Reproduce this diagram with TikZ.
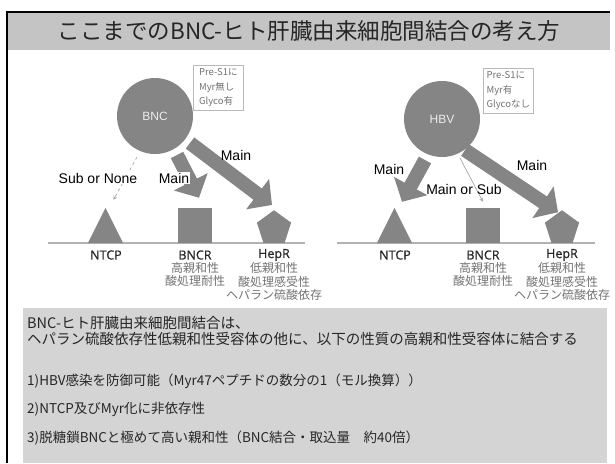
\documentclass[tikz,border=0pt]{standalone}
\usepackage{fontspec}
\setmainfont{Liberation Sans}
\newfontfamily\jp{Noto Sans CJK JP}
\newfontfamily\osans[BoldFont={Open Sans}, BoldFeatures={FakeBold=0.7}]{Open Sans}
\usetikzlibrary{arrows.meta,shapes.geometric}
\definecolor{shapegray}{gray}{0.52}
\definecolor{titlegray}{gray}{0.77}
\definecolor{boxgray}{gray}{0.83}
\definecolor{notegray}{gray}{0.45}
\begin{document}
\begin{tikzpicture}[x=1pt,y=-1pt,
  titletext/.style={font=\jp\fontsize{22.5}{25}\selectfont, text=black!85, inner sep=0},
  ball/.style={circle, fill=shapegray, minimum size=76pt, inner sep=0, text=gray!15, font=\fontsize{12}{14}\selectfont},
  prebox/.style={draw=gray!55, line width=0.6pt, align=left, text=notegray, font=\jp\fontsize{9.5}{14.5}\selectfont, inner sep=1.5pt, anchor=north west, minimum width=50pt, minimum height=45pt},
  sqbox/.style={fill=shapegray, minimum width=34pt, minimum height=35pt, inner sep=0},
  tribox/.style={minimum width=35pt, minimum height=35pt, inner sep=0},
  penta/.style={regular polygon, regular polygon sides=5, fill=shapegray, minimum size=36pt, inner sep=0, anchor=south},
  recname/.style={font=\osans\bfseries\fontsize{12.5}{14}\selectfont, text=black!85, inner sep=0},
  recnote/.style={font=\jp\fontsize{12}{13.5}\selectfont, text=notegray, align=center, inner sep=0},
  arrowlabel/.style={font=\fontsize{14}{16}\selectfont, inner sep=1pt},
  blockarrow/.style={draw=shapegray, line width=14pt, -{Triangle[length=18pt,width=37pt]}},
  thinarrow/.style={draw=gray!70, line width=0.7pt, -{Stealth[length=4pt,width=4pt]}},
  groundline/.style={draw=gray!60, line width=1.2pt},
  bodytext/.style={font=\jp\fontsize{13.5}{16}\selectfont, anchor=west, inner sep=0, text=black!85},
]
\useasboundingbox (0,0) rectangle (615,463);

% frame and title bar
\fill[titlegray] (8,12) rectangle (610,50);
\draw[line width=1.6pt] (7,463) -- (7,12) -- (610,12);
\node[titletext] (title) at (309,31) {ここまでのBNC-ヒト肝臓由来細胞間結合の考え方};

% ---------- left diagram ----------
\node[ball] (bnc) at (155,116) {BNC};
\node[prebox] (pre1) at (193,65) {Pre-S1に\\Myr無し\\Glyco有};
\draw[groundline] (48,243) -- (305,243);

\node[tribox] (ntcp1) at (105.5,225.5) {};
\fill[shapegray] (ntcp1.south west) -- (ntcp1.south east) -- (ntcp1.north) -- cycle;
\node[sqbox] (bncr1) at (195,225.5) {};
\node[penta] (hepr1) at (274,243) {};

\node[recname] (ntcp1l) at (106,255) {NTCP};
\node[recname] (bncr1l) at (195,255) {BNCR};
\node[recname] (hepr1l) at (274,255) {HepR};
\node[recnote] (bncr1n) at (195,274.5) {高親和性\\酸処理耐性};
\node[recnote] (hepr1n) at (274,281.5) {低親和性\\酸処理感受性\\ヘパラン硫酸依存};

\draw[blockarrow] ([shift={(35,27)}]bnc.center) -- ([shift={(-2,-5)}]hepr1.north);
\draw[blockarrow] ([shift={(22,39)}]bnc.center) -- ([shift={(4,-10)}]bncr1.north);
\draw[thinarrow, dashed] ([shift={(-18,41)}]bnc.center) -- ([shift={(8,-8)}]ntcp1.north);

\node[arrowlabel, fill=white] (lsub) at (98,178) {Sub or None};
\node[arrowlabel, fill=white] (lmain1) at (174,178) {Main};
\node[arrowlabel] (lmain2) at (236,155) {Main};

% ---------- right diagram ----------
\node[ball] (hbv) at (442,119) {HBV};
\node[prebox] (pre2) at (483,68) {Pre-S1に\\Myr有\\Glycoなし};
\draw[groundline] (337,243) -- (595,243);

\node[tribox] (ntcp2) at (394.5,225.5) {};
\fill[shapegray] (ntcp2.south west) -- (ntcp2.south east) -- (ntcp2.north) -- cycle;
\node[sqbox] (bncr2) at (483,225.5) {};
\node[penta] (hepr2) at (562,243) {};

\node[recname] (ntcp2l) at (395,255) {NTCP};
\node[recname] (bncr2l) at (483,255) {BNCR};
\node[recname] (hepr2l) at (562,255) {HepR};
\node[recnote] (bncr2n) at (483,274.5) {高親和性\\酸処理耐性};
\node[recnote] (hepr2n) at (562,281.5) {低親和性\\酸処理感受性\\ヘパラン硫酸依存};

\draw[blockarrow] ([shift={(-17,41)}]hbv.center) -- ([shift={(7.5,-6)}]ntcp2.north);
\draw[blockarrow] ([shift={(23,31)}]hbv.center) -- ([shift={(-4,-16)}]hepr2.center);
\draw[thinarrow] ([shift={(18,39)}]hbv.center) -- ([shift={(0,-6)}]bncr2.north);

\node[arrowlabel] (rmain1) at (389,169) {Main};
\node[arrowlabel] (rmainsub) at (464,189) {Main or Sub};
\node[arrowlabel] (rmain2) at (532,165) {Main};

% ---------- bottom box ----------
\fill[boxgray] (23,308) rectangle (607,463);
\node[bodytext, font=\jp\fontsize{14.5}{16}\selectfont] (b1) at (27,323) {BNC-ヒト肝臓由来細胞間結合は、};
\node[bodytext, font=\jp\fontsize{14.5}{16}\selectfont] (b2) at (27,339) {ヘパラン硫酸依存性低親和性受容体の他に、以下の性質の高親和性受容体に結合する};
\node[bodytext] (i1) at (27,381) {1)HBV感染を防御可能（Myr47ペプチドの数分の1（モル換算））};
\node[bodytext] (i2) at (27,409) {2)NTCP及びMyr化に非依存性};
\node[bodytext] (i3) at (27,438) {3)脱糖鎖BNCと極めて高い親和性（BNC結合・取込量　約40倍）};
\end{tikzpicture}
\end{document}
